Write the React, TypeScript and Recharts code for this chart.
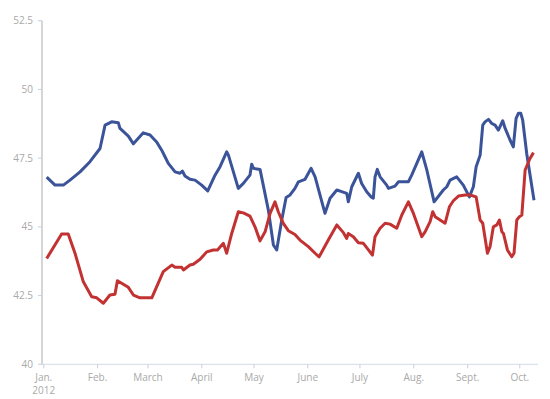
import { LineChart, Line, XAxis, YAxis } from "recharts"

// day of year 2012 (Jan 1 = 0) and poll average
const obamaDays = [1.7, 6.5, 11.3, 15.1, 20.9, 26.6, 32.4, 35.3, 39.1, 42.9, 43.9, 48.7, 51.6, 57.3, 61.2, 65.0, 67.9, 69.8, 71.7, 75.6, 78.4, 79.8, 81.3, 84.2, 87.1, 90.9, 94.4, 98.6, 101.5, 105.3, 106.3, 112.0, 114.9, 118.7, 119.7, 120.7, 124.5, 129.3, 132.2, 134.1, 137.0, 139.5, 141.8, 144.6, 146.6, 150.4, 153.9, 156.2, 159.0, 161.9, 164.8, 168.7, 171.5, 174.4, 175.3, 177.3, 181.1, 183.0, 185.9, 188.5, 189.7, 190.7, 192.0, 193.6, 197.4, 198.4, 202.2, 204.2, 209.9, 211.8, 217.6, 220.5, 224.7, 230.0, 232.0, 233.9, 237.7, 241.5, 245.0, 247.3, 248.9, 251.2, 252.7, 254.0, 256.0, 257.9, 259.8, 261.7, 264.2, 265.6, 268.4, 270.3, 271.9, 273.2, 274.6, 275.7, 278.0, 282.2]
const obamaPct = [46.81, 46.52, 46.52, 46.7, 47.0, 47.37, 47.85, 48.7, 48.82, 48.79, 48.58, 48.3, 48.02, 48.42, 48.34, 48.09, 47.79, 47.55, 47.31, 47.0, 46.95, 47.03, 46.85, 46.73, 46.7, 46.52, 46.31, 46.88, 47.19, 47.73, 47.61, 46.4, 46.58, 46.88, 47.28, 47.13, 47.09, 45.61, 44.34, 44.16, 45.25, 46.07, 46.16, 46.4, 46.64, 46.73, 47.13, 46.82, 46.16, 45.49, 46.04, 46.34, 46.28, 46.22, 45.91, 46.46, 46.95, 46.58, 46.28, 46.09, 46.04, 46.82, 47.09, 46.82, 46.52, 46.4, 46.48, 46.64, 46.64, 46.88, 47.73, 47.07, 45.91, 46.34, 46.46, 46.7, 46.82, 46.52, 46.09, 46.46, 47.19, 47.61, 48.7, 48.82, 48.91, 48.76, 48.7, 48.52, 48.86, 48.58, 48.16, 47.91, 48.95, 49.13, 49.13, 48.88, 47.67, 45.97]

const romneyDays = [1.7, 10.3, 14.1, 18.0, 22.8, 27.6, 30.5, 34.3, 38.1, 41.0, 42.4, 48.7, 51.6, 55.4, 62.2, 68.8, 73.7, 75.6, 79.4, 80.4, 84.2, 86.1, 90.0, 93.8, 97.6, 100.0, 103.4, 105.3, 108.2, 112.0, 114.9, 118.7, 121.6, 124.5, 127.4, 130.3, 133.1, 135.0, 137.9, 140.8, 144.6, 147.5, 152.3, 156.2, 158.5, 163.8, 168.7, 172.5, 174.4, 175.3, 178.2, 181.1, 184.0, 186.9, 189.2, 190.7, 193.6, 196.5, 199.3, 203.2, 206.1, 209.9, 212.8, 217.6, 219.5, 222.4, 223.9, 225.3, 231.0, 233.5, 235.8, 238.7, 242.6, 245.4, 248.9, 251.2, 252.7, 255.4, 256.9, 258.8, 260.8, 262.3, 263.7, 264.6, 266.9, 269.4, 270.7, 272.3, 273.8, 275.2, 277.1, 279.9, 281.9]
const romneyPct = [43.85, 44.74, 44.74, 44.04, 43.0, 42.46, 42.42, 42.22, 42.52, 42.55, 43.04, 42.8, 42.52, 42.42, 42.42, 43.37, 43.61, 43.53, 43.53, 43.43, 43.61, 43.64, 43.82, 44.09, 44.16, 44.16, 44.4, 44.04, 44.76, 45.55, 45.51, 45.39, 45.0, 44.49, 44.82, 45.49, 45.91, 45.55, 45.13, 44.86, 44.72, 44.52, 44.28, 44.04, 43.91, 44.52, 45.07, 44.79, 44.58, 44.76, 44.64, 44.42, 44.4, 44.16, 43.97, 44.64, 44.95, 45.13, 45.1, 44.95, 45.43, 45.91, 45.49, 44.64, 44.82, 45.19, 45.55, 45.37, 45.13, 45.73, 45.95, 46.12, 46.16, 46.16, 46.09, 45.25, 45.13, 44.04, 44.28, 45.0, 45.07, 45.25, 44.82, 44.76, 44.16, 43.91, 44.04, 45.25, 45.37, 45.43, 47.07, 47.49, 47.7]

const monthTicks = [0, 31, 60, 91, 121, 152, 182, 213, 244, 274]
const monthLabels = ["Jan.", "Feb.", "March", "April", "May", "June", "July", "Aug.", "Sept.", "Oct."]
const yTicks = [40, 42.5, 45, 47.5, 50, 52.5]

const obama = obamaDays.map((d, i) => ({ day: d, pct: obamaPct[i] }))
const romney = romneyDays.map((d, i) => ({ day: d, pct: romneyPct[i] }))

const font = "'Open Sans', 'Liberation Sans', sans-serif"
const labelColor = "#a9a9a9"

const renderMonthTick = (props: any) => {
  const { x, y, payload } = props
  const i = monthTicks.indexOf(payload.value)
  return (
    <text x={x} y={y} textAnchor="middle" fill={labelColor} stroke="none" fontSize={10} fontFamily={font}>
      <tspan x={x} dy="0.71em" fill={labelColor}>{monthLabels[i]}</tspan>
      {i === 0 && <tspan x={x} dy="1.25em" fill={labelColor}>2012</tspan>}
    </text>
  )
}

export default function App() {
  return (
    <div style={{ width: 542, height: 391 }}>
      <LineChart width={542} height={391} margin={{ top: 12.7, right: 12, bottom: 4.7, left: 0 }}>
        <XAxis
          type="number"
          dataKey="day"
          domain={[-1, 284.5]}
          ticks={monthTicks}
          tick={renderMonthTick}
          tickSize={4}
          tickMargin={6}
          height={30}
          axisLine={{ stroke: "#d3dbe4" }}
          tickLine={{ stroke: "#c6d1dd" }}
          allowDuplicatedCategory={false}
        />
        <YAxis
          type="number"
          domain={[40, 52.5]}
          ticks={yTicks}
          width={34}
          tickSize={4}
          tickMargin={5}
          axisLine={{ stroke: "#d6d6d6", strokeWidth: 2 }}
          tickLine={{ stroke: "#c6d1dd" }}
          tick={{ fill: labelColor, fontSize: 10, fontFamily: font }}
        />
        <Line data={obama} dataKey="pct" type="linear" stroke="#3b5499" strokeWidth={3} dot={false} strokeLinejoin="round" isAnimationActive={false} />
        <Line data={romney} dataKey="pct" type="linear" stroke="#c33232" strokeWidth={3} dot={false} strokeLinejoin="round" isAnimationActive={false} />
      </LineChart>
    </div>
  )
}
